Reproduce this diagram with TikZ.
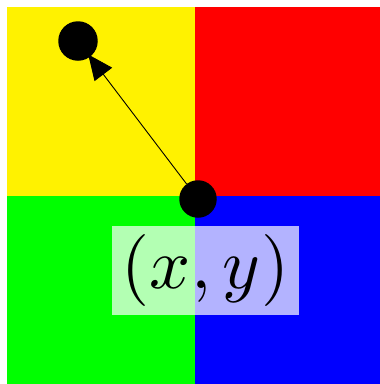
\documentclass[tikz,border=0pt]{standalone}
\usetikzlibrary{arrows.meta}
\begin{document}
\begin{tikzpicture}[x=1pt,y=-1pt,
  dot/.style={circle,fill=black,inner sep=0pt},
  lbl/.style={fill=white,fill opacity=0.7,text opacity=1,inner sep=0pt,
    minimum width=187pt,minimum height=89pt}]
\useasboundingbox (0,0) rectangle (380,384);
\fill[yellow] (6.5,7) rectangle (195,196);
\fill[red] (195,7) rectangle (380,196);
\fill[green] (6.5,196) rectangle (195,384);
\fill[blue] (195,196) rectangle (380,384);
\node[dot,minimum size=37.5pt] (p) at (198,199) {};
\node[dot,minimum size=39.5pt] (q) at (78,41) {};
\draw[line width=0.9pt,shorten >=-3pt,-{Triangle[length=25pt,width=22pt]}] (p) -- (q);
\node[lbl] (l) at (205.5,270.5) {\scalebox{7.2}{$(x,y)$}};
\end{tikzpicture}
\end{document}
